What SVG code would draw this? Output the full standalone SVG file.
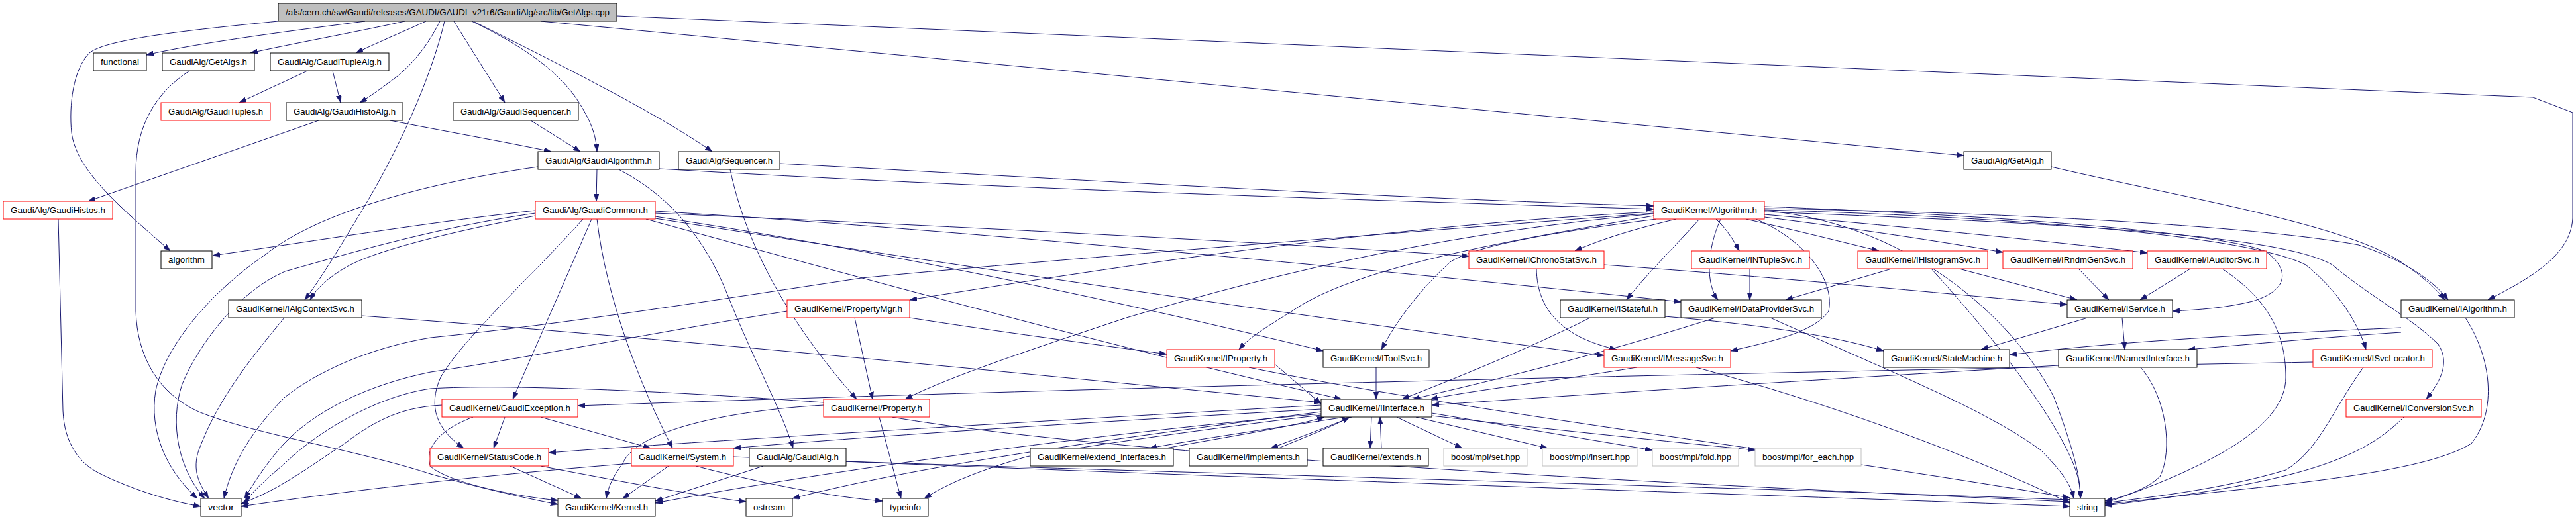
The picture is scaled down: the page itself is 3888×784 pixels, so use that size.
<svg xmlns="http://www.w3.org/2000/svg" width="3888" height="784" viewBox="0 0 3888 784">
<style>
.node rect{fill:#ffffff;stroke:#000000;stroke-width:1}
.node.red rect{stroke:#ff0000}
.node.gray rect{stroke:#bfbfbf}
.node text{font-family:"Liberation Sans",Arial,sans-serif;font-size:13px;fill:#000000;text-anchor:middle}
.edges path{fill:none;stroke:#191970;stroke-width:1;marker-end:url(#ah)}
</style>
<defs>
<marker id="ah" viewBox="0 0 11 8" refX="11" refY="4" markerWidth="11" markerHeight="8" markerUnits="userSpaceOnUse" orient="auto"><path d="M0,0 L11,4 L0,8 Z" fill="#191970" stroke="#191970" stroke-width="0.5"/></marker>
</defs>
<rect width="3888" height="784" fill="#ffffff"/>
<g id="connectors" class="edges">
<path d="M551,32 C460,44 300,64 221,83"/>
<path d="M611,32 C540,48 440,66 378,80"/>
<path d="M643,32 C615,45 570,64 537,80"/>
<path d="M664,32 C650,60 630,90 600,115 C580,130 560,145 543,155"/>
<path d="M420,32 C300,44 160,58 135,80 C110,105 104,160 108,200 C115,260 190,320 257,379"/>
<path d="M671,32 C650,120 600,230 545,320 C515,370 485,420 460,453"/>
<path d="M685,32 L762,155"/>
<path d="M712,32 C790,70 850,110 880,165 C895,190 900,210 901,229"/>
<path d="M716,33 C850,100 990,170 1075,229"/>
<path d="M816,32 L2964,235"/>
<path d="M931,24 L3823,147 L3883,170 L3883,330 C3880,385 3820,420 3755,453"/>
<path d="M286,107 C235,140 205,190 205,260 L205,470 C207,540 240,595 300,622 C380,655 540,680 650,716 C720,736 790,752 842,762"/>
<path d="M464,107 L361,155"/>
<path d="M502,107 L514,155"/>
<path d="M481,182 L133,304"/>
<path d="M589,182 C660,196 760,214 832,229"/>
<path d="M801,182 L876,229"/>
<path d="M88,331 L95,620 C97,670 120,700 150,715 C200,740 260,758 303,765"/>
<path d="M901,256 L900,304"/>
<path d="M812,252 C650,275 480,320 400,385 C320,440 250,520 235,590 C225,650 250,710 298,753"/>
<path d="M995,255 C1500,285 2000,300 2496,316"/>
<path d="M934,256 C1010,295 1065,360 1100,450 C1140,550 1180,620 1197,677"/>
<path d="M1177,247 C1600,270 2100,300 2496,311"/>
<path d="M1102,256 C1130,390 1210,510 1293,603"/>
<path d="M3096,252 C3300,300 3550,340 3630,400 C3660,420 3680,440 3690,453"/>
<path d="M808,318 C650,335 450,368 321,386"/>
<path d="M808,322 C650,345 520,385 430,410 C360,440 300,520 275,580 C255,640 270,710 309,753"/>
<path d="M808,326 C680,350 560,380 520,405 C495,420 478,435 468,453"/>
<path d="M880,331 C800,420 700,510 665,570 C645,615 660,650 700,677"/>
<path d="M893,331 L774,603"/>
<path d="M901,331 C915,450 965,580 1015,677"/>
<path d="M989,322 C1400,340 1900,365 2217,387"/>
<path d="M989,327 C1400,390 1750,470 1997,530"/>
<path d="M989,330 C1500,410 2050,490 2421,537"/>
<path d="M989,319 C1500,350 2200,420 2537,456"/>
<path d="M975,331 C1300,420 1700,530 2025,603"/>
<path d="M2530,331 C2470,345 2420,360 2377,379"/>
<path d="M2590,331 C2605,345 2615,360 2625,379"/>
<path d="M2635,331 C2720,350 2790,368 2836,379"/>
<path d="M2663,328 C2800,345 2930,365 3023,381"/>
<path d="M2663,324 C2900,345 3100,365 3241,382"/>
<path d="M2565,331 C2530,370 2480,420 2455,453"/>
<path d="M2597,331 C2575,380 2575,430 2593,453"/>
<path d="M2500,331 C2350,350 2230,370 2190,395 C2150,430 2110,480 2085,528"/>
<path d="M2496,326 C2300,360 2050,400 1950,470 C1910,495 1885,510 1870,528"/>
<path d="M2496,323 C2200,350 1950,405 1700,480 C1550,530 1430,570 1366,603"/>
<path d="M2496,320 C2100,340 1700,400 1373,453"/>
<path d="M2496,322 C2000,360 1500,400 1300,420 C1100,450 850,490 650,510 C560,525 480,560 430,600 C380,650 350,700 338,753"/>
<path d="M2663,318 C2900,340 3050,500 3100,600 C3130,680 3140,720 3140,753"/>
<path d="M2663,312 C3000,325 3350,350 3420,380 C3460,410 3450,440 3400,455 C3360,465 3320,468 3279,470"/>
<path d="M2663,315 C3000,320 3400,340 3560,370 C3620,390 3670,420 3695,453"/>
<path d="M2663,317 C3100,330 3400,360 3480,400 C3530,440 3560,490 3571,528"/>
<path d="M2663,320 C3200,340 3450,360 3520,400 C3580,450 3640,480 3680,520 C3700,550 3680,580 3662,603"/>
<path d="M2650,331 C2720,360 2770,420 2760,470 C2740,500 2680,515 2612,530"/>
<path d="M2319,406 C2320,470 2360,510 2440,528"/>
<path d="M2421,400 C2700,420 2950,445 3120,460"/>
<path d="M2641,406 L2641,453"/>
<path d="M2855,406 L2695,453"/>
<path d="M2957,406 L3135,453"/>
<path d="M2915,406 C3000,500 3080,600 3120,680 C3135,710 3140,730 3140,753"/>
<path d="M3137,406 L3183,453"/>
<path d="M3306,406 L3230,453"/>
<path d="M3354,406 C3420,450 3450,500 3450,570 C3450,640 3350,700 3177,760"/>
<path d="M2400,480 C2300,530 2200,570 2116,603"/>
<path d="M2513,478 C2650,490 2760,505 2843,530"/>
<path d="M2589,480 C2400,540 2250,575 2132,603"/>
<path d="M2672,480 C2850,560 3000,620 3080,680 C3110,710 3125,730 3130,753"/>
<path d="M3203,480 L3207,528"/>
<path d="M3151,480 L2990,528"/>
<path d="M3624,495 C3400,505 3200,515 3033,536"/>
<path d="M3624,502 C3500,510 3400,520 3302,528"/>
<path d="M3721,480 C3760,540 3770,620 3730,670 C3650,720 3400,735 3177,762"/>
<path d="M1924,550 L1994,610"/>
<path d="M1885,555 C2200,620 2700,680 3124,752"/>
<path d="M2077,555 L2077,603"/>
<path d="M2470,555 C2350,575 2220,590 2159,603"/>
<path d="M2560,555 C2800,620 3000,700 3124,760"/>
<path d="M3107,552 C2800,570 2400,595 2161,612"/>
<path d="M3231,555 C3270,600 3280,680 3260,720 C3240,740 3200,752 3177,757"/>
<path d="M3491,547 C2800,560 1800,580 872,613"/>
<path d="M3567,555 C3520,620 3500,680 3450,710 C3350,740 3250,750 3177,760"/>
<path d="M3628,630 C3560,700 3450,730 3177,764"/>
<path d="M1373,480 C1500,500 1650,520 1761,535"/>
<path d="M1290,480 L1317,603"/>
<path d="M1188,470 C1000,500 800,540 650,562 C560,580 470,620 420,680 C395,710 380,735 369,753"/>
<path d="M1243,608 C1000,590 760,580 650,587 C560,600 470,660 430,700 C400,725 385,740 369,758"/>
<path d="M667,612 C600,615 560,640 520,670 C460,710 420,740 364,761"/>
<path d="M1327,630 L1360,753"/>
<path d="M1346,630 C1700,690 2500,730 3124,758"/>
<path d="M1243,612 C1100,620 960,650 940,700 C925,720 918,735 915,753"/>
<path d="M762,630 L745,677"/>
<path d="M816,630 L982,677"/>
<path d="M714,630 C660,650 640,680 650,705 C680,730 780,750 842,756"/>
<path d="M770,704 L878,753"/>
<path d="M816,704 C950,730 1060,750 1126,758"/>
<path d="M1009,704 L940,753"/>
<path d="M953,700 C700,720 500,745 364,765"/>
<path d="M1107,690 C1800,720 2600,745 3124,765"/>
<path d="M1277,697 C1800,715 2600,735 3124,755"/>
<path d="M1050,704 C1150,730 1250,750 1332,757"/>
<path d="M1152,704 L989,757"/>
<path d="M1994,612 C1500,640 1000,670 828,684"/>
<path d="M1994,618 C1600,640 1300,660 1107,677"/>
<path d="M1994,625 C1600,660 1200,720 989,760"/>
<path d="M2030,630 C1900,650 1800,665 1735,677"/>
<path d="M2040,630 C1990,650 1950,665 1918,677"/>
<path d="M2070,630 L2068,677"/>
<path d="M2085,677 L2083,630"/>
<path d="M1930,677 C1970,660 2010,645 2037,630"/>
<path d="M1760,677 C1850,660 1950,645 1999,630"/>
<path d="M2108,630 L2207,677"/>
<path d="M2137,630 L2336,677"/>
<path d="M2161,624 L2494,680"/>
<path d="M2161,628 C2350,650 2550,670 2649,680"/>
<path d="M1994,627 C1800,650 1600,680 1549,690 C1480,710 1430,730 1395,753"/>
<path d="M1994,622 C1700,660 1400,700 1196,753"/>
<path d="M546,477 C1000,510 1500,560 1994,608"/>
<path d="M429,480 C380,540 330,600 300,680 C290,710 300,730 315,753"/>
</g>
<g id="n_root" class="node"><rect x="420" y="5" width="511" height="27" style="fill:#bfbfbf"/><text x="675.5" y="23" textLength="489" lengthAdjust="spacingAndGlyphs">/afs/cern.ch/sw/Gaudi/releases/GAUDI/GAUDI_v21r6/GaudiAlg/src/lib/GetAlgs.cpp</text></g>
<g id="n_functional" class="node"><rect x="141" y="80" width="80" height="27"/><text x="181" y="98" textLength="58" lengthAdjust="spacingAndGlyphs">functional</text></g>
<g id="n_GetAlgs" class="node"><rect x="245" y="80" width="139" height="27"/><text x="314.5" y="98" textLength="117" lengthAdjust="spacingAndGlyphs">GaudiAlg/GetAlgs.h</text></g>
<g id="n_GaudiTupleAlg" class="node"><rect x="408" y="80" width="179" height="27"/><text x="497.5" y="98" textLength="157" lengthAdjust="spacingAndGlyphs">GaudiAlg/GaudiTupleAlg.h</text></g>
<g id="n_GaudiTuples" class="node red"><rect x="243" y="155" width="165" height="27"/><text x="325.5" y="173" textLength="143" lengthAdjust="spacingAndGlyphs">GaudiAlg/GaudiTuples.h</text></g>
<g id="n_GaudiHistoAlg" class="node"><rect x="432" y="155" width="176" height="27"/><text x="520" y="173" textLength="154" lengthAdjust="spacingAndGlyphs">GaudiAlg/GaudiHistoAlg.h</text></g>
<g id="n_GaudiSequencer" class="node"><rect x="684" y="155" width="189" height="27"/><text x="778.5" y="173" textLength="167" lengthAdjust="spacingAndGlyphs">GaudiAlg/GaudiSequencer.h</text></g>
<g id="n_GaudiAlgorithm" class="node"><rect x="812" y="229" width="183" height="27"/><text x="903.5" y="247" textLength="161" lengthAdjust="spacingAndGlyphs">GaudiAlg/GaudiAlgorithm.h</text></g>
<g id="n_Sequencer" class="node"><rect x="1024" y="229" width="153" height="27"/><text x="1100.5" y="247" textLength="131" lengthAdjust="spacingAndGlyphs">GaudiAlg/Sequencer.h</text></g>
<g id="n_GetAlg" class="node"><rect x="2964" y="229" width="132" height="27"/><text x="3030" y="247" textLength="110" lengthAdjust="spacingAndGlyphs">GaudiAlg/GetAlg.h</text></g>
<g id="n_GaudiHistos" class="node red"><rect x="5" y="304" width="165" height="27"/><text x="87.5" y="322" textLength="143" lengthAdjust="spacingAndGlyphs">GaudiAlg/GaudiHistos.h</text></g>
<g id="n_GaudiCommon" class="node red"><rect x="808" y="304" width="181" height="27"/><text x="898.5" y="322" textLength="159" lengthAdjust="spacingAndGlyphs">GaudiAlg/GaudiCommon.h</text></g>
<g id="n_Algorithm" class="node red"><rect x="2496" y="304" width="167" height="27"/><text x="2579.5" y="322" textLength="145" lengthAdjust="spacingAndGlyphs">GaudiKernel/Algorithm.h</text></g>
<g id="n_algorithm" class="node"><rect x="243" y="379" width="77" height="27"/><text x="281.5" y="397" textLength="55" lengthAdjust="spacingAndGlyphs">algorithm</text></g>
<g id="n_IChronoStatSvc" class="node red"><rect x="2217" y="379" width="204" height="27"/><text x="2319" y="397" textLength="182" lengthAdjust="spacingAndGlyphs">GaudiKernel/IChronoStatSvc.h</text></g>
<g id="n_INTupleSvc" class="node red"><rect x="2553" y="379" width="178" height="27"/><text x="2642" y="397" textLength="156" lengthAdjust="spacingAndGlyphs">GaudiKernel/INTupleSvc.h</text></g>
<g id="n_IHistogramSvc" class="node red"><rect x="2804" y="379" width="196" height="27"/><text x="2902" y="397" textLength="174" lengthAdjust="spacingAndGlyphs">GaudiKernel/IHistogramSvc.h</text></g>
<g id="n_IRndmGenSvc" class="node red"><rect x="3023" y="379" width="196" height="27"/><text x="3121" y="397" textLength="174" lengthAdjust="spacingAndGlyphs">GaudiKernel/IRndmGenSvc.h</text></g>
<g id="n_IAuditorSvc" class="node red"><rect x="3241" y="379" width="180" height="27"/><text x="3331" y="397" textLength="158" lengthAdjust="spacingAndGlyphs">GaudiKernel/IAuditorSvc.h</text></g>
<g id="n_IAlgContextSvc" class="node"><rect x="345" y="453" width="201" height="27"/><text x="445.5" y="471" textLength="179" lengthAdjust="spacingAndGlyphs">GaudiKernel/IAlgContextSvc.h</text></g>
<g id="n_PropertyMgr" class="node red"><rect x="1188" y="453" width="185" height="27"/><text x="1280.5" y="471" textLength="163" lengthAdjust="spacingAndGlyphs">GaudiKernel/PropertyMgr.h</text></g>
<g id="n_IStateful" class="node"><rect x="2355" y="453" width="158" height="27"/><text x="2434" y="471" textLength="136" lengthAdjust="spacingAndGlyphs">GaudiKernel/IStateful.h</text></g>
<g id="n_IDataProviderSvc" class="node"><rect x="2537" y="453" width="212" height="27"/><text x="2643" y="471" textLength="190" lengthAdjust="spacingAndGlyphs">GaudiKernel/IDataProviderSvc.h</text></g>
<g id="n_IService" class="node"><rect x="3120" y="453" width="159" height="27"/><text x="3199.5" y="471" textLength="137" lengthAdjust="spacingAndGlyphs">GaudiKernel/IService.h</text></g>
<g id="n_IAlgorithm" class="node"><rect x="3624" y="453" width="171" height="27"/><text x="3709.5" y="471" textLength="149" lengthAdjust="spacingAndGlyphs">GaudiKernel/IAlgorithm.h</text></g>
<g id="n_IProperty" class="node red"><rect x="1761" y="528" width="163" height="27"/><text x="1842.5" y="546" textLength="141" lengthAdjust="spacingAndGlyphs">GaudiKernel/IProperty.h</text></g>
<g id="n_IToolSvc" class="node"><rect x="1997" y="528" width="160" height="27"/><text x="2077" y="546" textLength="138" lengthAdjust="spacingAndGlyphs">GaudiKernel/IToolSvc.h</text></g>
<g id="n_IMessageSvc" class="node red"><rect x="2421" y="528" width="191" height="27"/><text x="2516.5" y="546" textLength="169" lengthAdjust="spacingAndGlyphs">GaudiKernel/IMessageSvc.h</text></g>
<g id="n_StateMachine" class="node"><rect x="2843" y="528" width="190" height="27"/><text x="2938" y="546" textLength="168" lengthAdjust="spacingAndGlyphs">GaudiKernel/StateMachine.h</text></g>
<g id="n_INamedInterface" class="node"><rect x="3107" y="528" width="209" height="27"/><text x="3211.5" y="546" textLength="187" lengthAdjust="spacingAndGlyphs">GaudiKernel/INamedInterface.h</text></g>
<g id="n_ISvcLocator" class="node red"><rect x="3491" y="528" width="180" height="27"/><text x="3581" y="546" textLength="158" lengthAdjust="spacingAndGlyphs">GaudiKernel/ISvcLocator.h</text></g>
<g id="n_GaudiException" class="node red"><rect x="667" y="603" width="205" height="27"/><text x="769.5" y="621" textLength="183" lengthAdjust="spacingAndGlyphs">GaudiKernel/GaudiException.h</text></g>
<g id="n_Property" class="node red"><rect x="1243" y="603" width="160" height="27"/><text x="1323" y="621" textLength="138" lengthAdjust="spacingAndGlyphs">GaudiKernel/Property.h</text></g>
<g id="n_IInterface" class="node"><rect x="1994" y="603" width="167" height="27"/><text x="2077.5" y="621" textLength="145" lengthAdjust="spacingAndGlyphs">GaudiKernel/IInterface.h</text></g>
<g id="n_IConversionSvc" class="node red"><rect x="3541" y="603" width="204" height="27"/><text x="3643" y="621" textLength="182" lengthAdjust="spacingAndGlyphs">GaudiKernel/IConversionSvc.h</text></g>
<g id="n_StatusCode" class="node red"><rect x="649" y="677" width="179" height="27"/><text x="738.5" y="695" textLength="157" lengthAdjust="spacingAndGlyphs">GaudiKernel/StatusCode.h</text></g>
<g id="n_System" class="node red"><rect x="953" y="677" width="154" height="27"/><text x="1030" y="695" textLength="132" lengthAdjust="spacingAndGlyphs">GaudiKernel/System.h</text></g>
<g id="n_GaudiAlg" class="node"><rect x="1131" y="677" width="146" height="27"/><text x="1204" y="695" textLength="124" lengthAdjust="spacingAndGlyphs">GaudiAlg/GaudiAlg.h</text></g>
<g id="n_extend_interfaces" class="node"><rect x="1555" y="677" width="216" height="27"/><text x="1663" y="695" textLength="194" lengthAdjust="spacingAndGlyphs">GaudiKernel/extend_interfaces.h</text></g>
<g id="n_implements" class="node"><rect x="1795" y="677" width="178" height="27"/><text x="1884" y="695" textLength="156" lengthAdjust="spacingAndGlyphs">GaudiKernel/implements.h</text></g>
<g id="n_extends" class="node"><rect x="1997" y="677" width="159" height="27"/><text x="2076.5" y="695" textLength="137" lengthAdjust="spacingAndGlyphs">GaudiKernel/extends.h</text></g>
<g id="n_set" class="node gray"><rect x="2179" y="677" width="126" height="27"/><text x="2242" y="695" textLength="104" lengthAdjust="spacingAndGlyphs">boost/mpl/set.hpp</text></g>
<g id="n_insert" class="node gray"><rect x="2328" y="677" width="143" height="27"/><text x="2399.5" y="695" textLength="121" lengthAdjust="spacingAndGlyphs">boost/mpl/insert.hpp</text></g>
<g id="n_fold" class="node gray"><rect x="2494" y="677" width="130" height="27"/><text x="2559" y="695" textLength="108" lengthAdjust="spacingAndGlyphs">boost/mpl/fold.hpp</text></g>
<g id="n_for_each" class="node gray"><rect x="2649" y="677" width="160" height="27"/><text x="2729" y="695" textLength="138" lengthAdjust="spacingAndGlyphs">boost/mpl/for_each.hpp</text></g>
<g id="n_vector" class="node"><rect x="303" y="753" width="61" height="27"/><text x="333.5" y="771" textLength="39" lengthAdjust="spacingAndGlyphs">vector</text></g>
<g id="n_Kernel" class="node"><rect x="842" y="753" width="147" height="27"/><text x="915.5" y="771" textLength="125" lengthAdjust="spacingAndGlyphs">GaudiKernel/Kernel.h</text></g>
<g id="n_ostream" class="node"><rect x="1126" y="753" width="70" height="27"/><text x="1161" y="771" textLength="48" lengthAdjust="spacingAndGlyphs">ostream</text></g>
<g id="n_typeinfo" class="node"><rect x="1332" y="753" width="69" height="27"/><text x="1366.5" y="771" textLength="47" lengthAdjust="spacingAndGlyphs">typeinfo</text></g>
<g id="n_string" class="node"><rect x="3124" y="753" width="53" height="27"/><text x="3150.5" y="771" textLength="31" lengthAdjust="spacingAndGlyphs">string</text></g>
</svg>
